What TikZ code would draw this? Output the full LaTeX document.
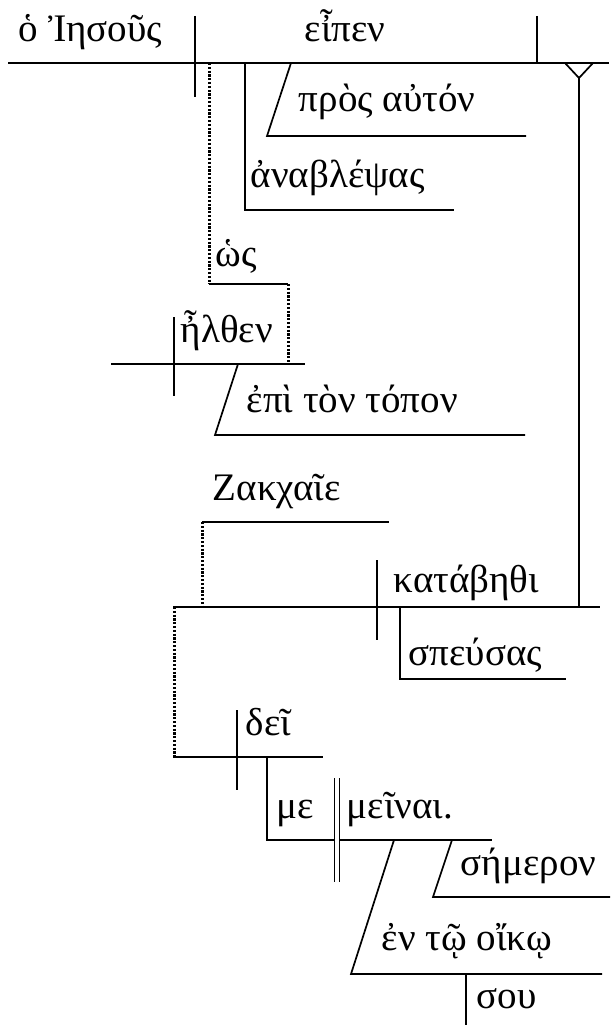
\documentclass[tikz,border=0pt]{standalone}
\usepackage{fontspec}
\setmainfont{Liberation Serif}
\usepackage{tikz}

\begin{document}
\begin{tikzpicture}[x=1pt,y=-1pt,line width=1.7pt,
		word/.style={anchor=base west,inner sep=0pt,font=\fontsize{39}{44}\selectfont},
		dots/.style={line width=3pt,dash pattern=on 2.2pt off 1.6pt}]
				\useasboundingbox (0,0) rectangle (610,1027);
				%%%words
				%main clause
				\node[word] at (18,42) (S){ὁ Ἰησοῦς};
				\node[word] at (304,42) (V){εἶπεν};
				\node[word] at (298,112) (PA){πρὸς αὐτόν};
				\node[word] at (250,188) (AN){ἀναβλέψας};
				%temporal clause
				\node[word] at (215,266) (HOS){ὡς};
				\node[word] at (180,342) (HL){ἦλθεν};
				\node[word] at (246,412) (EP){ἐπὶ τὸν τόπον};
				%direct speech
				\node[word] at (212,500) (ZA){Ζακχαῖε};
				\node[word] at (393,592) (KA){κατάβηθι};
				\node[word] at (408,665) (SP){σπεύσας};
				\node[word] at (245,735) (DE){δεῖ};
				\node[word] at (276,818) (ME){με};
				\node[word] at (346,818) (MN){μεῖναι.};
				\node[word] at (460,875) (SE){σήμερον};
				\node[word] at (381,950) (OI){ἐν τῷ οἴκῳ};
				\node[word] at (476,1008) (SO){σου};
				%%%points
				\coordinate (B0) at (8,63);	\coordinate (B1) at (609,63);
				\coordinate (SV0) at (195,16);	\coordinate (SV1) at (195,97);
				\coordinate (VO0) at (537,16);	\coordinate (VO1) at (537,63);
				\coordinate (T0) at (565,63);	\coordinate (T1) at (579,78);	\coordinate (T2) at (593,63);
				\coordinate (T3) at (579,607);
				\coordinate (PA0) at (291,63);	\coordinate (PA1) at (267,136);	\coordinate (PA2) at (526,136);
				\coordinate (AN0) at (245,63);	\coordinate (AN1) at (245,210);	\coordinate (AN2) at (454,210);
				\coordinate (HOS0) at (209,63);	\coordinate (HOS1) at (209,284);	\coordinate (HOS2) at (288,284);
				\coordinate (HOS3) at (288,364);
				\coordinate (HL0) at (111,364);	\coordinate (HL1) at (305,364);
				\coordinate (HL2) at (174,317);	\coordinate (HL3) at (174,396);
				\coordinate (EP0) at (238,364);	\coordinate (EP1) at (215,435);	\coordinate (EP2) at (525,435);
				\coordinate (ZA0) at (202,522);	\coordinate (ZA1) at (389,522);	\coordinate (ZA2) at (202,607);
				\coordinate (KA0) at (173,607);	\coordinate (KA1) at (600,607);
				\coordinate (KA2) at (377,560);	\coordinate (KA3) at (377,640);
				\coordinate (SP0) at (400,607);	\coordinate (SP1) at (400,679);	\coordinate (SP2) at (566,679);
				\coordinate (DE0) at (174,607);	\coordinate (DE1) at (174,757);
				\coordinate (DE2) at (173,757);	\coordinate (DE3) at (323,757);
				\coordinate (DE4) at (237,710);	\coordinate (DE5) at (237,790);
				\coordinate (ME0) at (267,757);	\coordinate (ME1) at (267,840);	\coordinate (ME2) at (492,840);
				\coordinate (MN0) at (337,778);	\coordinate (MN1) at (337,882);
				\coordinate (SE0) at (452,840);	\coordinate (SE1) at (433,897);	\coordinate (SE2) at (610,897);
				\coordinate (OI0) at (394,840);	\coordinate (OI1) at (351,974);	\coordinate (OI2) at (602,974);
				\coordinate (SO0) at (466,974);	\coordinate (SO1) at (466,1025);
				%%%lines
				%main clause
				\draw[-] (B0) -- (B1);
				\draw[-] (SV0) -- (SV1);
				\draw[-] (VO0) -- (VO1);
				\draw[-] (PA0) -- (PA1) -- (PA2);
				\draw[-] (AN0) -- (AN1) -- (AN2);
				%temporal clause
				\draw[dots] (HOS0) -- (HOS1);
				\draw[-] (HOS1) -- (HOS2);
				\draw[dots] (HOS2) -- (HOS3);
				\draw[-] (HL0) -- (HL1);
				\draw[-] (HL2) -- (HL3);
				\draw[-] (EP0) -- (EP1) -- (EP2);
				%direct speech
				\draw[-] (T0) -- (T1) -- (T2);
				\draw[-] (T1) -- (T3);
				\draw[-] (ZA0) -- (ZA1);
				\draw[dots] (ZA0) -- (ZA2);
				\draw[-] (KA0) -- (KA1);
				\draw[-] (KA2) -- (KA3);
				\draw[-] (SP0) -- (SP1) -- (SP2);
				\draw[dots] (DE0) -- (DE1);
				\draw[-] (DE2) -- (DE3);
				\draw[-] (DE4) -- (DE5);
				\draw[-] (ME0) -- (ME1) -- (ME2);
				\draw[double,line width=1.2pt,double distance=3.5pt] (MN0) -- (MN1);
				\draw[-] (SE0) -- (SE1) -- (SE2);
				\draw[-] (OI0) -- (OI1) -- (OI2);
				\draw[-] (SO0) -- (SO1);
			\end{tikzpicture}
\end{document}
